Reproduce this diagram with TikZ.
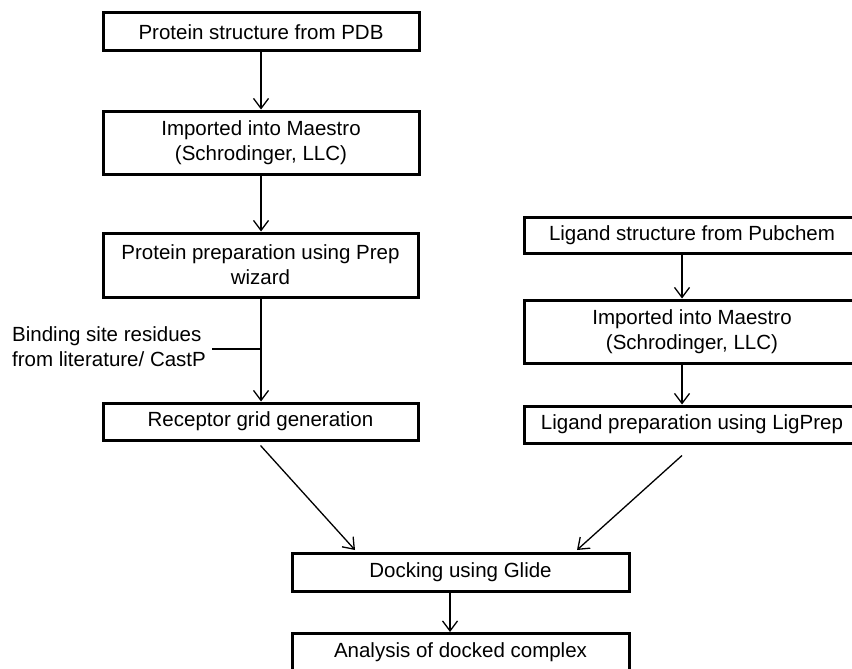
\documentclass[tikz,border=0pt]{standalone}
\usepackage{fontspec}
\setmainfont{Liberation Sans}
\usetikzlibrary{arrows.meta,calc}
\begin{document}
\begin{tikzpicture}[x=1pt,y=-1pt,
  box/.style={draw=black,line width=3pt,minimum width=#1,inner sep=0pt,align=center,
    font=\fontsize{20.5}{25}\selectfont},
  box/.default=316pt,
  arr/.style={draw=black,line width=1.3pt,-{Straight Barb[length=10pt,width=15pt,line width=1.3pt]}},
  lbl/.style={align=left,inner sep=0pt,font=\fontsize{20.5}{25}\selectfont}]
\useasboundingbox (0,0) rectangle (852,669);
\clip (0,0) rectangle (852,669);
\fill[white] (0,0) rectangle (852,669);
% left column
\node[box,minimum height=38pt] (b1) at (261,32) {Protein structure from PDB};
\node[box,minimum height=63pt] (b2) at (261,142.5) {Imported into Maestro\\(Schrodinger, LLC)};
\node[box=315pt,minimum height=64pt] (b3) at (260.5,265) {Protein preparation using Prep\\wizard};
\node[box=315pt,minimum height=37pt] (b4) at (260.5,421.5) {Receptor grid generation};
% right column
\node[box=336pt,minimum height=36pt] (l1) at (692,235) {Ligand structure from Pubchem};
\node[box=336pt,minimum height=63pt] (l2) at (692,331.5) {Imported into Maestro\\(Schrodinger, LLC)};
\node[box=336pt,minimum height=37pt] (l3) at (692,424.5) {Ligand preparation using LigPrep};
% bottom
\node[box=337pt,minimum height=38pt] (d) at (460.5,572) {Docking using Glide};
\node[box=337pt,minimum height=38pt] (a) at (460.5,652.5) {Analysis of docked complex};
% label
\node[lbl,anchor=north west] (bind) at (12,326) {Binding site residues\\from literature/ CastP};
\coordinate (bs) at (212,349);
\coordinate (j) at (261,349);
\coordinate (xr) at (682,0);
\coordinate (dl) at (355,550);
\coordinate (dr) at (577,550);
% connectors
\draw[arr] (b1.south -| j) -- (b2.north -| j);
\draw[arr] (b2.south -| j) -- (b3.north -| j);
\draw[arr] (b3.south -| j) -- (b4.north -| j);
\draw[line width=1.3pt] (bs) -- (j);
\draw[arr] (l1.south -| xr) -- (l2.north -| xr);
\draw[arr] (l2.south -| xr) -- (l3.north -| xr);
\draw[arr] ($(b4.south)+(0,4)$) -- (dl);
\draw[arr] ($(l3.south -| xr)+(0,11)$) -- (dr);
\draw[arr] (d.south -| 450,0) -- (a.north -| 450,0);
\end{tikzpicture}
\end{document}
